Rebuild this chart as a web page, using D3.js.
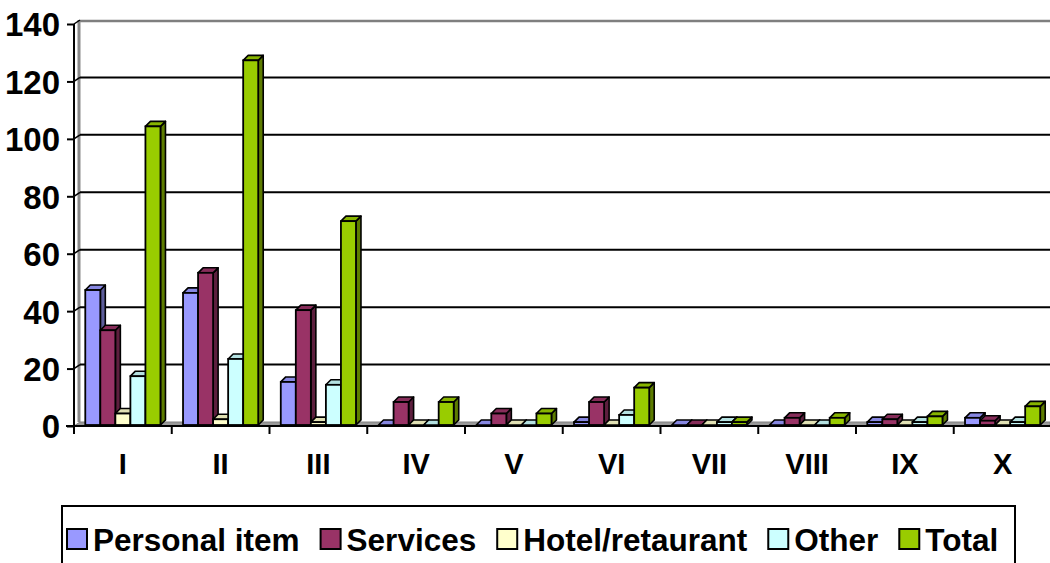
<!DOCTYPE html>
<html><head><meta charset="utf-8">
<script src="https://cdn.jsdelivr.net/npm/d3@7"></script>
<style>
html,body{margin:0;padding:0;background:#fff;}
svg{display:block;font-family:"Liberation Sans",Arial,sans-serif;font-weight:bold;}
</style></head>
<body>
<svg id="chart" width="1050" height="563"></svg>
<script>
const categories = ["I","II","III","IV","V","VI","VII","VIII","IX","X"];
const seriesNames = ["Personal item","Services","Hotel/retaurant","Other","Total"];
const personalItem = [47, 46, 15, 0, 0, 1, 0, 0, 1, 2.5];
const services     = [33, 53, 40, 8, 4, 8, 0, 2.5, 2, 1.5];
const hotelRest    = [4, 2, 1, 0, 0, 0, 0, 0, 0, 0];
const other        = [17, 23, 14, 0, 0, 3.5, 1, 0, 1, 1];
const total        = [104, 127, 71, 8, 4, 13, 1, 2.5, 3, 6.5];
const yTicks = [0, 20, 40, 60, 80, 100, 120, 140];
const colors = ["#9999FF","#993366","#FFFFCC","#CCFFFF","#99CC00"];

const seriesValues = [personalItem, services, hotelRest, other, total];
const svg = d3.select("#chart");

const x0 = d3.scaleBand().domain(categories).range([74, 1051.5]).paddingInner(0).paddingOuter(0);
const x1 = d3.scaleBand().domain(seriesNames).range([0, x0.bandwidth()]).paddingInner(0).paddingOuter(0.75);
const y = d3.scaleLinear().domain([0, 140]).range([426, 24]);

const wallDx = 6, wallDy = -4;
const dx = 5, dy = -5;

// back wall border lines
svg.append("line").attr("x1", 74 + wallDx).attr("x2", 1050).attr("y1", y(140) + wallDy + 1).attr("y2", y(140) + wallDy + 1)
  .attr("stroke", "#7f7f7f").attr("stroke-width", 2.5);
svg.append("line").attr("x1", 74 + wallDx - 1).attr("x2", 74 + wallDx - 1).attr("y1", y(140) + wallDy).attr("y2", y(0) + wallDy)
  .attr("stroke", "#8a8a8a").attr("stroke-width", 3);

// gridlines on back wall
svg.append("g").selectAll("line").data(yTicks.filter(d => d > 0 && d < 140)).join("line")
  .attr("x1", 74 + wallDx).attr("x2", 1050)
  .attr("y1", d => y(d) + wallDy).attr("y2", d => y(d) + wallDy)
  .attr("stroke", "#000").attr("stroke-width", 2);
svg.append("g").selectAll("line").data(yTicks.filter(d => d > 0)).join("line")
  .attr("x1", 74).attr("x2", 74 + wallDx)
  .attr("y1", d => y(d)).attr("y2", d => y(d) + wallDy)
  .attr("stroke", "#000").attr("stroke-width", 1.5);

// floor
svg.append("path")
  .attr("d", `M74,${y(0)} L${74 + wallDx},${y(0) + wallDy} L1050,${y(0) + wallDy} L1050,${y(0)} Z`)
  .attr("fill", "#9a9a9a").attr("stroke", "#808080").attr("stroke-width", 1);

// bars
const base = y(0) - 1;
function darker(c, k) { return d3.color(c).darker(k).formatHex(); }
categories.forEach((cat, ci) => {
  const g = svg.append("g");
  seriesNames.forEach((s, si) => {
    const v = seriesValues[si][ci];
    const xl = x0(cat) + x1(s), w = x1.bandwidth();
    const xr = xl + w, top = y(v) - 1;
    const col = colors[si];
    g.append("path").attr("d", `M${xr},${base} L${xr + dx},${base + dy} L${xr + dx},${top + dy} L${xr},${top} Z`)
      .attr("fill", darker(col, 1.4)).attr("stroke", "#000").attr("stroke-width", 1.6).attr("stroke-linejoin", "round");
    g.append("path").attr("d", `M${xl},${top} L${xl + dx},${top + dy} L${xr + dx},${top + dy} L${xr},${top} Z`)
      .attr("fill", darker(col, 0.35)).attr("stroke", "#000").attr("stroke-width", 1.6).attr("stroke-linejoin", "round");
    g.append("rect").attr("x", xl).attr("y", top).attr("width", w).attr("height", Math.max(0, base - top))
      .attr("fill", col).attr("stroke", "#000").attr("stroke-width", 1.8);
  });
});

// axes lines
svg.append("line").attr("x1", 74).attr("x2", 74).attr("y1", y(140)).attr("y2", y(0) + 1)
  .attr("stroke", "#000").attr("stroke-width", 2);
svg.append("line").attr("x1", 66).attr("x2", 1050).attr("y1", y(0)).attr("y2", y(0))
  .attr("stroke", "#000").attr("stroke-width", 2);

// y axis
const yAxis = d3.axisLeft(y).tickValues(yTicks).tickSize(7).tickPadding(7);
const ya = svg.append("g").attr("transform", "translate(74,0)").call(yAxis);
ya.select(".domain").remove();
ya.selectAll(".tick line").attr("stroke", "#000").attr("stroke-width", 2);
ya.selectAll(".tick text").attr("font-size", 33).attr("font-family", "Liberation Sans, Arial, sans-serif")
  .attr("font-weight", "bold").attr("fill", "#000").attr("dy", "0.36em");

// x axis ticks at boundaries
const xb = categories.map(c => x0(c));
svg.append("g").selectAll("line").data(xb).join("line")
  .attr("x1", d => d).attr("x2", d => d).attr("y1", y(0)).attr("y2", y(0) + 8)
  .attr("stroke", "#000").attr("stroke-width", 2);
svg.append("g").selectAll("text").data(categories).join("text")
  .attr("x", d => x0(d) + x0.bandwidth() / 2).attr("y", 474)
  .attr("text-anchor", "middle").attr("font-size", 29).attr("fill", "#000").text(d => d);

// legend
const lg = svg.append("g");
lg.append("rect").attr("x", 62).attr("y", 506).attr("width", 953).attr("height", 80)
  .attr("fill", "#fff").attr("stroke", "#000").attr("stroke-width", 2);
let tx = 93;
seriesNames.forEach((s, i) => {
  lg.append("rect").attr("x", tx - 26).attr("y", 529).attr("width", 20).attr("height", 20)
    .attr("fill", colors[i]).attr("stroke", "#000").attr("stroke-width", 2);
  const t = lg.append("text").attr("x", tx).attr("y", 551).attr("font-size", 31.5).attr("fill", "#000").text(s);
  tx += t.node().getComputedTextLength() + 47;
});
</script>
</body></html>
